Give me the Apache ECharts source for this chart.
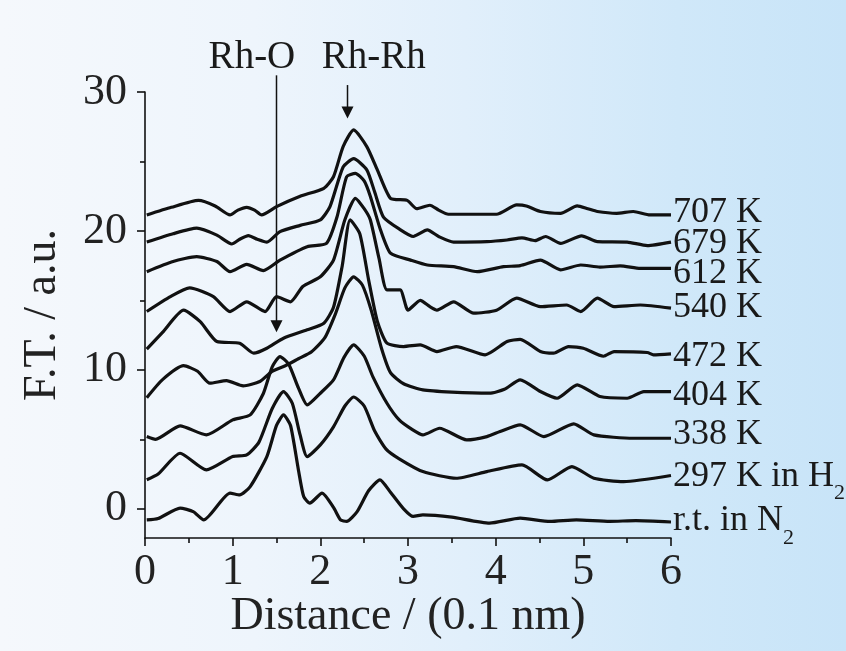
<!DOCTYPE html>
<html>
<head>
<meta charset="utf-8">
<script src="https://cdn.jsdelivr.net/npm/echarts@6/dist/echarts.min.js"></script>
<style>
  html, body { margin: 0; padding: 0; }
  #chart {
    width: 846px; height: 651px;
    background: linear-gradient(to right, #f5f8fc 0%, #eef5fc 30%, #e1effb 55%, #d0e8f9 80%, #c8e4f8 100%);
  }
</style>
</head>
<body>
<div id="chart"></div>
<script>
// Fourier-transformed EXAFS spectra of Rh, stacked by treatment temperature.
// Each curve: [distance (0.1 nm), F.T. magnitude incl. vertical stacking offset]
const T707 = [[0.02,21.15],[0.3,21.7],[0.61,22.2],[0.8,21.8],[0.97,21.15],[1.06,21.5],[1.16,21.7],[1.25,21.5],[1.33,21.15],[1.5,21.75],[1.77,22.5],[2.04,23.07],[2.15,23.9],[2.26,26.07],[2.38,27.27],[2.53,26.07],[2.65,24.4],[2.8,22.35],[2.99,22.2],[3.1,21.6],[3.25,21.85],[3.35,21.5],[3.46,21.2],[3.71,21.2],[4.01,21.2],[4.24,21.87],[4.35,21.8],[4.51,21.4],[4.74,21.27],[4.93,21.8],[5.05,21.6],[5.16,21.4],[5.38,21.27],[5.57,21.4],[5.76,21.15],[6.0,21.15]];
const T679 = [[0.02,19.2],[0.32,19.8],[0.59,20.2],[0.82,19.7],[0.99,19.06],[1.08,19.4],[1.18,19.66],[1.28,19.4],[1.39,19.19],[1.54,19.95],[1.77,20.4],[2.0,20.8],[2.11,21.75],[2.26,24.6],[2.38,25.2],[2.53,24.4],[2.62,22.8],[2.72,21.0],[2.91,20.1],[3.06,19.6],[3.22,20.07],[3.35,19.6],[3.52,19.2],[3.9,19.23],[4.13,19.35],[4.3,19.5],[4.45,19.3],[4.57,19.6],[4.74,19.1],[4.98,19.65],[5.16,19.23],[5.5,19.2],[5.73,18.95],[6.0,19.2]];
const T612 = [[0.02,17.07],[0.32,17.8],[0.59,18.15],[0.82,17.8],[0.97,17.07],[1.16,17.6],[1.35,17.15],[1.54,17.9],[1.85,18.87],[2.07,19.1],[2.19,21.0],[2.3,23.9],[2.4,24.15],[2.5,23.6],[2.57,22.5],[2.68,20.2],[2.8,18.4],[3.03,17.9],[3.22,17.55],[3.52,17.43],[3.79,17.07],[4.09,17.43],[4.28,17.5],[4.51,17.9],[4.74,17.2],[4.97,17.55],[5.19,17.4],[5.42,17.48],[5.65,17.3],[6.0,17.3]];
const T540 = [[0.02,14.2],[0.29,15.27],[0.51,15.9],[0.78,15.27],[0.97,14.2],[1.16,14.9],[1.37,14.2],[1.5,15.27],[1.66,14.9],[1.8,16.0],[2.0,16.7],[2.15,17.9],[2.28,20.8],[2.4,22.35],[2.5,21.6],[2.57,20.8],[2.67,18.0],[2.76,15.76],[2.91,15.76],[3.0,14.3],[3.14,15.0],[3.25,14.55],[3.33,14.3],[3.52,14.9],[3.75,14.08],[4.01,14.3],[4.24,15.16],[4.51,14.55],[4.81,14.67],[4.97,14.2],[5.16,15.16],[5.35,14.55],[5.65,14.67],[6.0,14.44]];
const T472 = [[0.02,11.5],[0.2,12.7],[0.44,14.3],[0.63,13.47],[0.82,12.04],[1.08,11.92],[1.24,11.2],[1.39,11.56],[1.58,12.28],[1.85,12.88],[2.04,13.36],[2.15,14.5],[2.25,17.5],[2.34,20.8],[2.45,19.8],[2.55,16.5],[2.65,13.5],[2.76,11.92],[2.95,11.68],[3.14,11.8],[3.33,11.32],[3.55,11.68],[3.88,11.08],[4.13,12.04],[4.28,12.2],[4.51,11.32],[4.66,11.2],[4.83,11.68],[5.0,11.56],[5.23,10.98],[5.35,11.32],[5.73,11.25],[5.8,11.08],[6.0,11.15]];
const T404 = [[0.02,8.0],[0.2,9.3],[0.44,10.3],[0.6,9.9],[0.74,9.04],[0.93,9.23],[1.12,8.85],[1.31,9.16],[1.45,9.9],[1.6,10.3],[1.75,10.8],[1.9,11.3],[2.05,12.3],[2.17,14.0],[2.28,15.9],[2.38,16.7],[2.48,16.1],[2.58,14.3],[2.7,11.5],[2.8,9.8],[2.95,9.0],[3.17,8.56],[3.5,8.4],[3.93,8.32],[4.1,8.6],[4.28,9.28],[4.51,8.44],[4.7,7.96],[4.93,8.92],[5.19,8.08],[5.5,7.96],[5.69,8.44],[6.0,8.44]];
const T338 = [[0.02,5.2],[0.12,5.0],[0.4,5.97],[0.7,5.32],[1.0,6.4],[1.2,6.76],[1.35,8.3],[1.45,10.2],[1.54,10.96],[1.64,10.4],[1.75,8.7],[1.85,7.48],[2.0,8.32],[2.15,9.28],[2.27,10.9],[2.38,11.8],[2.5,11.0],[2.6,9.5],[2.76,7.6],[2.9,6.4],[3.05,5.7],[3.17,5.32],[3.36,5.8],[3.67,4.96],[3.9,5.2],[4.05,5.56],[4.28,6.04],[4.55,5.2],[4.89,6.12],[5.12,5.32],[5.57,5.08],[6.0,5.08]];
const T297 = [[0.02,2.09],[0.15,2.5],[0.4,4.0],[0.7,2.8],[1.0,3.76],[1.16,3.88],[1.3,4.8],[1.45,7.2],[1.58,8.44],[1.68,7.6],[1.77,5.3],[1.85,3.76],[2.0,4.6],[2.15,5.9],[2.28,7.4],[2.38,8.05],[2.5,7.4],[2.62,5.6],[2.75,4.3],[2.9,3.6],[3.17,2.68],[3.55,2.2],[3.9,2.68],[4.3,3.16],[4.59,2.08],[4.87,3.04],[5.12,2.2],[5.46,1.96],[6.0,2.4]];
const TRT  = [[0.02,-0.8],[0.15,-0.7],[0.4,0.05],[0.55,-0.2],[0.67,-0.8],[0.97,1.13],[1.08,1.0],[1.2,1.6],[1.39,3.76],[1.5,6.0],[1.58,6.76],[1.66,6.0],[1.75,2.8],[1.81,0.88],[1.88,0.41],[2.02,1.13],[2.15,0.1],[2.23,-0.8],[2.3,-0.91],[2.42,-0.2],[2.55,1.3],[2.68,2.09],[2.8,1.2],[2.95,0.0],[3.06,-0.55],[3.17,-0.43],[3.5,-0.6],[3.93,-1.03],[4.28,-0.67],[4.62,-0.91],[4.92,-0.79],[5.3,-0.9],[5.6,-0.85],[6.0,-0.95]];

const curves = [T707, T679, T612, T540, T472, T404, T338, T297, TRT];
const curveLabels = ['707 K', '679 K', '612 K', '540 K', '472 K', '404 K', '338 K', '297 K in H2', 'r.t. in N2'];

// axis ranges and ticks
const X_MIN = 0, X_MAX = 6, X_STEP = 1;
const Y_MIN = -2.1, Y_MAX = 30;
const yMajorTicks = [0, 10, 20, 30];
const yMinorTicks = [5, 15, 25];

// peak markers: arrow from top to tip, in data units
const markers = [
  { text: 'Rh-O',  x: 1.5,  yTop: 31.2, yTip: 12.7, textX: 1.22, textY: 32.45 },
  { text: 'Rh-Rh', x: 2.31, yTop: 30.5, yTip: 28.1, textX: 2.61, textY: 32.45 }
];

// small vertical nudges (px) so the end labels don't crowd each other
const labelNudge = [-2, 1, 5, -1, 3, 4, -4, 1, -1];

const SERIF = '"Liberation Serif", "DejaVu Serif", serif';
const INK = '#111111';

const chart = echarts.init(document.getElementById('chart'), null, { renderer: 'canvas' });

function labelText(s) {
  // chemical formula subscript for the gas name
  return s.replace(/([A-Z])2$/, '$1{sub|2}');
}

const series = curves.map((pts, i) => ({
  type: 'line',
  name: curveLabels[i],
  data: pts,
  symbol: 'none',
  showSymbol: false,
  smooth: 0.2,
  silent: true,
  animation: false,
  lineStyle: { color: INK, width: 3.2 },
  endLabel: {
    show: true,
    distance: 2,
    offset: [0, labelNudge[i]],
    color: '#1a1a1a',
    fontFamily: SERIF,
    fontSize: 36,
    formatter: () => labelText(curveLabels[i]),
    rich: {
      sub: { fontFamily: SERIF, fontSize: 22, lineHeight: 22, color: '#1a1a1a', padding: [34, 0, 0, 0] }
    }
  }
}));

const axisLineStyle = { color: INK, width: 1.6 };

chart.setOption({
  animation: false,
  grid: { left: 145, right: 175, top: 92, bottom: 113, containLabel: false },
  xAxis: {
    type: 'value', min: X_MIN, max: X_MAX, interval: X_STEP,
    axisLine: { show: true, onZero: false, lineStyle: axisLineStyle },
    axisTick: { show: true, length: 8, lineStyle: axisLineStyle },
    minorTick: { show: true, splitNumber: 2, length: 5, lineStyle: axisLineStyle },
    splitLine: { show: false },
    axisLabel: { fontFamily: SERIF, fontSize: 44, color: '#222', margin: 12 },
    name: 'Distance / (0.1 nm)',
    nameLocation: 'middle',
    nameGap: 56,
    nameMoveOverlap: false,
    nameTextStyle: { fontFamily: SERIF, fontSize: 46, color: '#222' }
  },
  yAxis: [{
    type: 'value', min: Y_MIN, max: Y_MAX,
    axisLine: { show: true, lineStyle: axisLineStyle },
    axisTick: { show: true, length: 8, customValues: yMajorTicks, lineStyle: axisLineStyle },
    axisLabel: { customValues: yMajorTicks, fontFamily: SERIF, fontSize: 44, color: '#222', margin: 18 },
    splitLine: { show: false },
    name: 'F.T. / a.u.',
    nameLocation: 'middle',
    nameRotate: 90,
    nameGap: 79,
    nameMoveOverlap: false,
    nameTextStyle: { fontFamily: SERIF, fontSize: 46, color: '#222' }
  }, {
    type: 'value', min: Y_MIN, max: Y_MAX, position: 'left',
    axisLine: { show: false },
    axisLabel: { show: false },
    splitLine: { show: false },
    axisTick: { show: true, length: 5, customValues: yMinorTicks, lineStyle: axisLineStyle }
  }],
  series
});

// arrows and captions for the Rh-O and Rh-Rh shells
const toPx = (x, y) => chart.convertToPixel({ xAxisIndex: 0, yAxisIndex: 0 }, [x, y]);
const graphics = [];
markers.forEach((m) => {
  const top = toPx(m.x, m.yTop);
  const tip = toPx(m.x, m.yTip);
  const head = 12;
  graphics.push({
    type: 'line', silent: true,
    shape: { x1: top[0], y1: top[1], x2: tip[0], y2: tip[1] - head + 1 },
    style: { stroke: INK, lineWidth: 1.5 }
  });
  graphics.push({
    type: 'polygon', silent: true,
    shape: { points: [[tip[0] - 6, tip[1] - head], [tip[0] + 6, tip[1] - head], [tip[0], tip[1]]] },
    style: { fill: INK }
  });
  const t = toPx(m.textX, m.textY);
  graphics.push({
    type: 'text', silent: true, x: t[0], y: t[1],
    style: { text: m.text, fill: '#1a1a1a', font: '39px ' + SERIF, align: 'center', verticalAlign: 'middle' }
  });
});
chart.setOption({ graphic: graphics });
</script>
</body>
</html>
